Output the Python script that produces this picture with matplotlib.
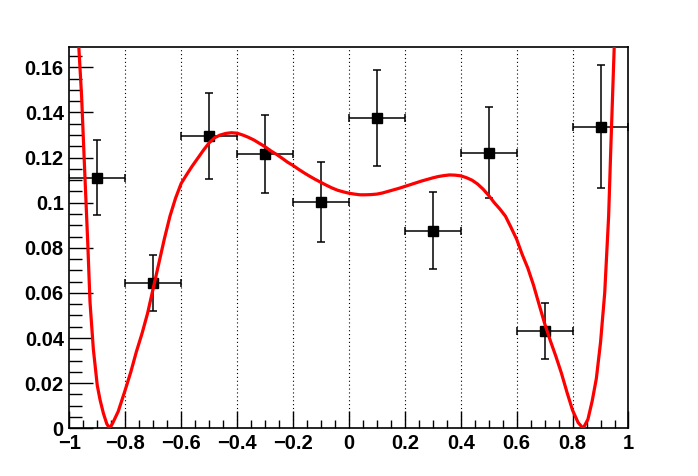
import matplotlib
matplotlib.use("Agg")
import matplotlib.pyplot as plt
from matplotlib.ticker import MultipleLocator, FixedLocator, FuncFormatter

# Measured points (bin centres, contents, errors)
x_pts = [-0.9, -0.7, -0.5, -0.3, -0.1, 0.1, 0.3, 0.5, 0.7, 0.9]
y_pts = [0.1111, 0.0643, 0.1296, 0.1216, 0.1003, 0.1375, 0.0876, 0.1222, 0.0431, 0.1336]
y_err = [0.0165, 0.0123, 0.0190, 0.0172, 0.0179, 0.0213, 0.0172, 0.0202, 0.0124, 0.0273]
x_err = [0.1] * 10

# Fit curve
curve_x = [-0.966, -0.956, -0.947, -0.934, -0.926, -0.914, -0.900, -0.890, -0.878,
           -0.866, -0.856, -0.846, -0.825, -0.800, -0.780, -0.760, -0.740, -0.720,
           -0.700, -0.680, -0.660, -0.640, -0.620, -0.600, -0.580, -0.560, -0.540,
           -0.520, -0.500, -0.480, -0.460, -0.440, -0.420, -0.400, -0.380, -0.360,
           -0.340, -0.320, -0.300, -0.280, -0.260, -0.240, -0.220, -0.200, -0.180,
           -0.160, -0.140, -0.120, -0.100, -0.080, -0.060, -0.040, -0.020, 0.000,
           0.020, 0.040, 0.060, 0.080, 0.100, 0.120, 0.140, 0.160, 0.180, 0.200,
           0.220, 0.240, 0.260, 0.280, 0.300, 0.320, 0.340, 0.360, 0.380, 0.400,
           0.420, 0.440, 0.460, 0.480, 0.500, 0.520, 0.540, 0.560, 0.580, 0.600,
           0.620, 0.640, 0.660, 0.680, 0.700, 0.720, 0.740, 0.760, 0.780, 0.800,
           0.820, 0.838, 0.855, 0.870, 0.885, 0.900, 0.915, 0.929, 0.937, 0.949]
curve_y = [0.169, 0.147, 0.120, 0.082, 0.056, 0.035, 0.019, 0.0126, 0.0066,
           0.002, 0.000, 0.002, 0.0075, 0.017, 0.025, 0.034, 0.042, 0.051,
           0.062, 0.073, 0.084, 0.094, 0.102, 0.1085, 0.1125, 0.1163, 0.1198,
           0.1233, 0.1265, 0.1288, 0.1300, 0.1307, 0.131, 0.1308, 0.130, 0.129,
           0.1278, 0.1263, 0.1248, 0.123, 0.1215, 0.1198, 0.118, 0.1165, 0.1148,
           0.1132, 0.1117, 0.1103, 0.109, 0.1077, 0.1065, 0.1055, 0.1048, 0.1042,
           0.1038, 0.1035, 0.1035, 0.1036, 0.1038, 0.1043, 0.1050, 0.1057, 0.1064, 0.1072,
           0.1080, 0.1088, 0.1096, 0.1103, 0.1110, 0.1116, 0.1120, 0.1123, 0.1122, 0.1119,
           0.1111, 0.1100, 0.1083, 0.1060, 0.1032, 0.1000, 0.0972, 0.094, 0.089, 0.0838,
           0.077, 0.071, 0.0636, 0.055, 0.0465, 0.039, 0.032, 0.0245, 0.016, 0.008,
           0.0025, 0.000, 0.004, 0.012, 0.022, 0.038, 0.060, 0.094, 0.125, 0.169]

x_major = [-1, -0.8, -0.6, -0.4, -0.2, 0, 0.2, 0.4, 0.6, 0.8, 1]
y_major = [0, 0.02, 0.04, 0.06, 0.08, 0.1, 0.12, 0.14, 0.16]

plt.rcParams["font.family"] = ["Liberation Sans", "DejaVu Sans"]
plt.rcParams["font.weight"] = "bold"

fig = plt.figure(figsize=(6.98, 4.76), dpi=100)
ax = fig.add_axes([0.0993, 0.1002, 0.8011, 0.8006])

# Vertical dotted grid only
for xv in x_major[1:-1]:
    ax.axvline(xv, color="black", linestyle=(0, (1, 2.5)), linewidth=0.8, zorder=1)

ax.errorbar(x_pts, y_pts, xerr=x_err, yerr=y_err, fmt="s", color="black",
            markersize=6.5, elinewidth=1.1, capsize=3, capthick=1.1, zorder=3)
ax.plot(curve_x, curve_y, color="#ff0000", linewidth=2.3, zorder=4, clip_on=True)

ax.set_xlim(-1, 1)
ax.set_ylim(0, 0.1689)

ax.xaxis.set_major_locator(FixedLocator(x_major))
ax.xaxis.set_minor_locator(MultipleLocator(0.05))
ax.yaxis.set_major_locator(FixedLocator(y_major))
ax.yaxis.set_minor_locator(MultipleLocator(0.005))

fmt = FuncFormatter(lambda v, p: ("%g" % v).replace("-", "\u2212"))
ax.xaxis.set_major_formatter(fmt)
ax.yaxis.set_major_formatter(FuncFormatter(lambda v, p: "%g" % v))

ax.tick_params(axis="both", which="both", direction="in", top=False, right=False,
               labelsize=14.5, width=1.0)
ax.tick_params(axis="x", which="major", length=12, pad=4)
ax.tick_params(axis="x", which="minor", length=6)
ax.tick_params(axis="y", which="major", length=17, pad=4)
ax.tick_params(axis="y", which="minor", length=9)
for lab in ax.get_xticklabels() + ax.get_yticklabels():
    lab.set_fontweight("bold")
for sp in ax.spines.values():
    sp.set_linewidth(1.2)

fig.savefig("out.png", dpi=100)
